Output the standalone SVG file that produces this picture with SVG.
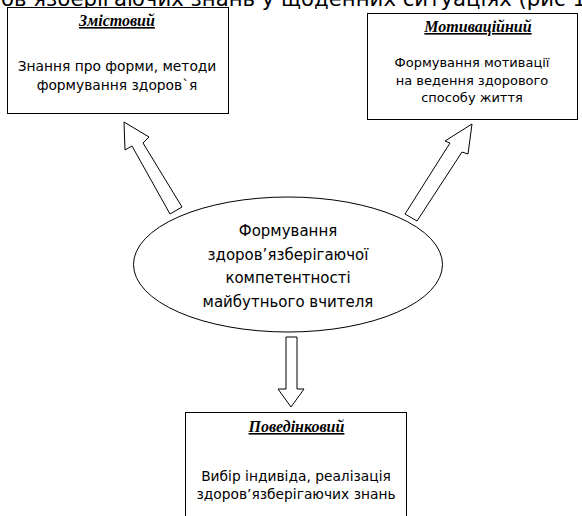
<svg xmlns="http://www.w3.org/2000/svg" width="582" height="516" viewBox="0 0 582 516">
<style>
.box{fill:#fff;stroke:#000;stroke-width:1}
.title{font-family:"Liberation Serif",serif;font-weight:bold;font-style:italic;font-size:16px;text-decoration:underline;text-anchor:middle;fill:#000}
.body{font-family:"DejaVu Sans",Verdana,sans-serif;font-size:13.8px;text-anchor:middle;fill:#000}
.body2{font-family:"DejaVu Sans",Verdana,sans-serif;font-size:13px;text-anchor:middle;fill:#000}
.center{font-family:"DejaVu Sans",Verdana,sans-serif;font-size:15px;text-anchor:middle;fill:#000}
.arrow{fill:#fff;stroke:#000;stroke-width:1;stroke-linejoin:miter}
</style>
<rect width="582" height="516" fill="#fff"/>
<text x="1" y="6" font-family="DejaVu Sans,Verdana,sans-serif" font-size="21" fill="#000" textLength="585" lengthAdjust="spacingAndGlyphs">ов’язберігаючих знань у щоденних ситуаціях (рис 1</text>
<g id="connectors">
<polygon class="arrow" points="124,122 149,137 143,143 182,207 170,214 132,146 125,150"/>
<polygon class="arrow" points="472,124 468,154 462,152 417,221 405,214 450,143 445,141"/>
<polygon class="arrow" points="286,337 297,337 297,389 304,389 291,407 278,389 286,389"/>
</g>
<g id="node-zmistovyi">
<rect class="box" x="7.5" y="7.5" width="221" height="106"/>
<text class="title" x="117" y="26">Змістовий</text>
<text class="body" x="117" y="71">Знання про форми, методи</text>
<text class="body" x="117" y="89.5">формування здоров`я</text>
</g>
<g id="node-motyvatsiinyi">
<rect class="box" x="367.5" y="13.5" width="210" height="106"/>
<text class="title" x="478" y="32">Мотиваційний</text>
<text class="body2" x="472" y="67">Формування мотивації</text>
<text class="body2" x="472" y="85">на ведення здорового</text>
<text class="body2" x="472" y="102">способу життя</text>
</g>
<g id="node-center">
<ellipse class="box" cx="288" cy="264.5" rx="154.5" ry="67.5"/>
<text class="center" x="288" y="236">Формування</text>
<text class="center" x="288" y="259.5">здоров’язберігаючої</text>
<text class="center" x="288" y="283">компетентності</text>
<text class="center" x="288" y="306.5">майбутнього вчителя</text>
</g>
<g id="node-povedinkovyi">
<rect class="box" x="185.5" y="412.5" width="221" height="110"/>
<text class="title" x="296.5" y="432">Поведінковий</text>
<text class="body" x="296" y="481">Вибір індивіда, реалізація</text>
<text class="body" x="296" y="499">здоров’язберігаючих знань</text>
</g>
</svg>
